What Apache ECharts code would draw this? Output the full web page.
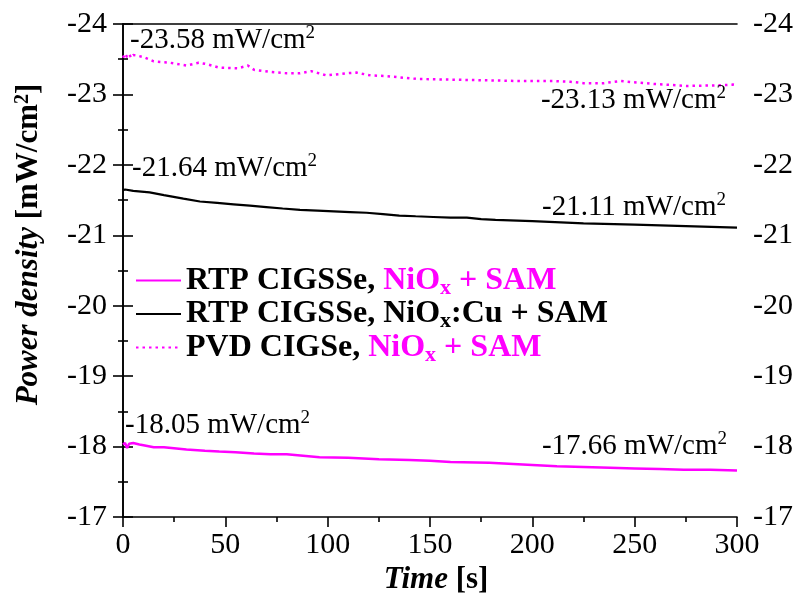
<!DOCTYPE html>
<html>
<head>
<meta charset="utf-8">
<script src="https://cdn.jsdelivr.net/npm/echarts@6/dist/echarts.min.js"></script>
<style>html,body{margin:0;padding:0;background:#fff}#c{width:798px;height:599px}</style>
</head>
<body>
<div id="c"></div>
<script>
// ---- data ----
var seriesNames = ['RTP CIGSSe, NiOx + SAM', 'RTP CIGSSe, NiOx:Cu + SAM', 'PVD CIGSe, NiOx + SAM'];
var xTicks = [0, 50, 100, 150, 200, 250, 300];
var yTicks = [-24, -23, -22, -21, -20, -19, -18, -17];

var timeRtpNiOx = [0, 1, 2, 3, 5, 8, 10, 15, 20, 31, 40, 47, 55, 64, 72, 80, 88, 96, 110, 125, 140, 150, 160, 179, 200, 212, 225, 238, 250, 262, 274, 287, 300];
var powerRtpNiOx = [-18.03, -18.05, -17.98, -18.04, -18.05, -18.03, -18.02, -17.99, -17.99, -17.96, -17.94, -17.93, -17.92, -17.90, -17.89, -17.89, -17.87, -17.85, -17.84, -17.82, -17.81, -17.80, -17.78, -17.77, -17.74, -17.72, -17.71, -17.70, -17.69, -17.68, -17.67, -17.67, -17.66];

var timeRtpNiOxCu = [0, 1, 5, 13, 20, 29.5, 37.6, 46, 54, 62, 70, 78, 86.5, 95, 103, 111, 119, 127, 135, 143, 151.6, 160, 168, 175, 182, 200, 225, 250, 275, 300];
var powerRtpNiOxCu = [-21.64, -21.65, -21.63, -21.61, -21.57, -21.52, -21.48, -21.46, -21.44, -21.42, -21.40, -21.38, -21.36, -21.35, -21.34, -21.33, -21.32, -21.30, -21.28, -21.27, -21.26, -21.25, -21.25, -21.23, -21.22, -21.20, -21.17, -21.15, -21.13, -21.11];

var timePvdNiOx = [0, 1, 2, 3, 4, 5, 7, 10, 15, 23, 31, 37, 41, 47, 56, 61, 64, 72, 80, 86.5, 92, 99.5, 109, 114, 121, 129, 143.5, 161, 178, 194, 210, 218.5, 225, 235, 243, 259, 275.5, 292, 298, 300];
var powerPvdNiOx = [-23.52, -23.58, -23.53, -23.57, -23.52, -23.56, -23.55, -23.53, -23.47, -23.45, -23.41, -23.45, -23.43, -23.38, -23.37, -23.41, -23.35, -23.32, -23.30, -23.30, -23.33, -23.27, -23.30, -23.31, -23.27, -23.26, -23.22, -23.21, -23.20, -23.19, -23.19, -23.18, -23.16, -23.16, -23.19, -23.15, -23.12, -23.13, -23.14, -23.13];

var annotations = [
  {text: '-23.58 mW/cm', x: 130, y: 40, align: 'left'},
  {text: '-23.13 mW/cm', x: 726, y: 100, align: 'right'},
  {text: '-21.64 mW/cm', x: 132, y: 168, align: 'left'},
  {text: '-21.11 mW/cm', x: 726, y: 207, align: 'right'},
  {text: '-18.05 mW/cm', x: 125, y: 425, align: 'left'},
  {text: '-17.66 mW/cm', x: 727, y: 446, align: 'right'}
];

function pairs(t, v) { return t.map(function (x, i) { return [x, v[i]]; }); }

var MAG = '#FF00FF';
var FONT = '"Liberation Serif", "Times New Roman", serif';
var chart = echarts.init(document.getElementById('c'), null, {renderer: 'canvas'});

var axisLineStyle = {color: '#000', width: 1.6};
function yAxisCfg(pos) {
  return {
    type: 'value', position: pos, inverse: true, min: -24, max: -17, interval: 1,
    axisLine: {show: true, lineStyle: axisLineStyle},
    axisTick: {show: true, inside: false, length: 10, lineStyle: axisLineStyle},
    minorTick: {show: true, splitNumber: 2, length: 5, lineStyle: {color: '#000', width: 1.6}},
    splitLine: {show: false},
    axisLabel: {fontFamily: FONT, fontSize: 30, color: '#000', margin: 16,
      formatter: function (v) { return yTicks.indexOf(v) >= 0 ? String(v) : ''; }}
  };
}

var leftY = yAxisCfg('left');
leftY.name = '{i|Power density }{b|[mW/cm}{s|2}{b|]}';
leftY.nameLocation = 'middle';
leftY.nameGap = 78;
leftY.nameTextStyle = {
  fontFamily: FONT, fontSize: 31,
  padding: [0, 0, 0, 52],
  rich: {
    i: {fontFamily: FONT, fontSize: 31, fontWeight: 'bold', fontStyle: 'italic', color: '#000', lineHeight: 32},
    b: {fontFamily: FONT, fontSize: 31, fontWeight: 'bold', color: '#000', lineHeight: 32},
    s: {fontFamily: FONT, fontSize: 20, fontWeight: 'bold', color: '#000', lineHeight: 32, padding: [0, 0, 13, 0]}
  }
};

var LF = 32;
var richLeg = {
  k: {fontFamily: FONT, fontSize: LF, fontWeight: 'bold', color: '#000', lineHeight: 30},
  m: {fontFamily: FONT, fontSize: LF, fontWeight: 'bold', color: MAG, lineHeight: 30},
  ks: {fontFamily: FONT, fontSize: 22, fontWeight: 'bold', color: '#000', lineHeight: 30, padding: [15, 0, 0, 0]},
  ms: {fontFamily: FONT, fontSize: 22, fontWeight: 'bold', color: MAG, lineHeight: 30, padding: [15, 0, 0, 0]}
};
var legendText = {};
legendText[seriesNames[0]] = '{k|RTP CIGSSe, }{m|NiO}{ms|x}{m| + SAM}';
legendText[seriesNames[1]] = '{k|RTP CIGSSe, NiO}{ks|x}{k|:Cu + SAM}';
legendText[seriesNames[2]] = '{k|PVD CIGSe, }{m|NiO}{ms|x}{m| + SAM}';

var graphics = annotations.map(function (a) {
  return {
    type: 'text', z: 50,
    style: {
      x: a.x, y: a.y, align: a.align, verticalAlign: 'middle',
      text: '{a|' + a.text + '}{s|2}',
      rich: {
        a: {fontFamily: FONT, fontSize: 29, fill: '#000', lineHeight: 30},
        s: {fontFamily: FONT, fontSize: 19, fill: '#000', lineHeight: 30, padding: [0, 0, 13, 0]}
      }
    }
  };
});

chart.setOption({
  animation: false,
  backgroundColor: '#fff',
  grid: {left: 123, right: 61, top: 24, bottom: 82, containLabel: false, outerBoundsMode: 'none'},
  legend: {
    orient: 'vertical', left: 135, top: 262, itemGap: -3.5, itemWidth: 45, itemHeight: 14, padding: 0,
    data: seriesNames,
    itemStyle: {opacity: 0, borderWidth: 0},
    textStyle: {rich: richLeg, fontFamily: FONT, fontSize: LF},
    formatter: function (n) { return legendText[n]; }
  },
  xAxis: [{
    type: 'value', position: 'bottom', min: 0, max: 300, interval: 50,
    axisLine: {show: true, onZero: false, lineStyle: axisLineStyle},
    axisTick: {show: true, inside: false, length: 10, lineStyle: axisLineStyle},
    minorTick: {show: true, splitNumber: 2, length: 5, lineStyle: {color: '#000', width: 1.6}},
    splitLine: {show: false},
    axisLabel: {fontFamily: FONT, fontSize: 30, color: '#000', margin: 13,
      formatter: function (v) { return xTicks.indexOf(v) >= 0 ? String(v) : ''; }},
    name: '{i|Time }{b|[s]}', nameLocation: 'middle', nameGap: 46,
    nameTextStyle: {fontFamily: FONT, fontSize: 31, padding: [0, 0, 0, 12], rich: {
      i: {fontFamily: FONT, fontSize: 31, fontWeight: 'bold', fontStyle: 'italic', color: '#000', lineHeight: 32},
      b: {fontFamily: FONT, fontSize: 31, fontWeight: 'bold', color: '#000', lineHeight: 32}
    }}
  }, {
    type: 'value', position: 'top', min: 0, max: 300, interval: 50,
    axisLine: {show: true, onZero: false, lineStyle: axisLineStyle},
    axisTick: {show: false}, axisLabel: {show: false}, splitLine: {show: false}
  }],
  yAxis: [leftY, yAxisCfg('right')],
  series: [{
    name: seriesNames[0], type: 'line', xAxisIndex: 0, yAxisIndex: 0,
    data: pairs(timeRtpNiOx, powerRtpNiOx), showSymbol: false, symbol: 'none',
    lineStyle: {color: MAG, width: 2.5}, itemStyle: {color: MAG}
  }, {
    name: seriesNames[1], type: 'line', xAxisIndex: 0, yAxisIndex: 0,
    data: pairs(timeRtpNiOxCu, powerRtpNiOxCu), showSymbol: false, symbol: 'none',
    lineStyle: {color: '#000', width: 2.2}, itemStyle: {color: '#000'}
  }, {
    name: seriesNames[2], type: 'line', xAxisIndex: 0, yAxisIndex: 0,
    data: pairs(timePvdNiOx, powerPvdNiOx), showSymbol: false, symbol: 'none',
    lineStyle: {color: MAG, width: 2.5, type: [2.5, 4]}, itemStyle: {color: MAG}
  }],
  graphic: graphics
});
</script>
</body>
</html>
